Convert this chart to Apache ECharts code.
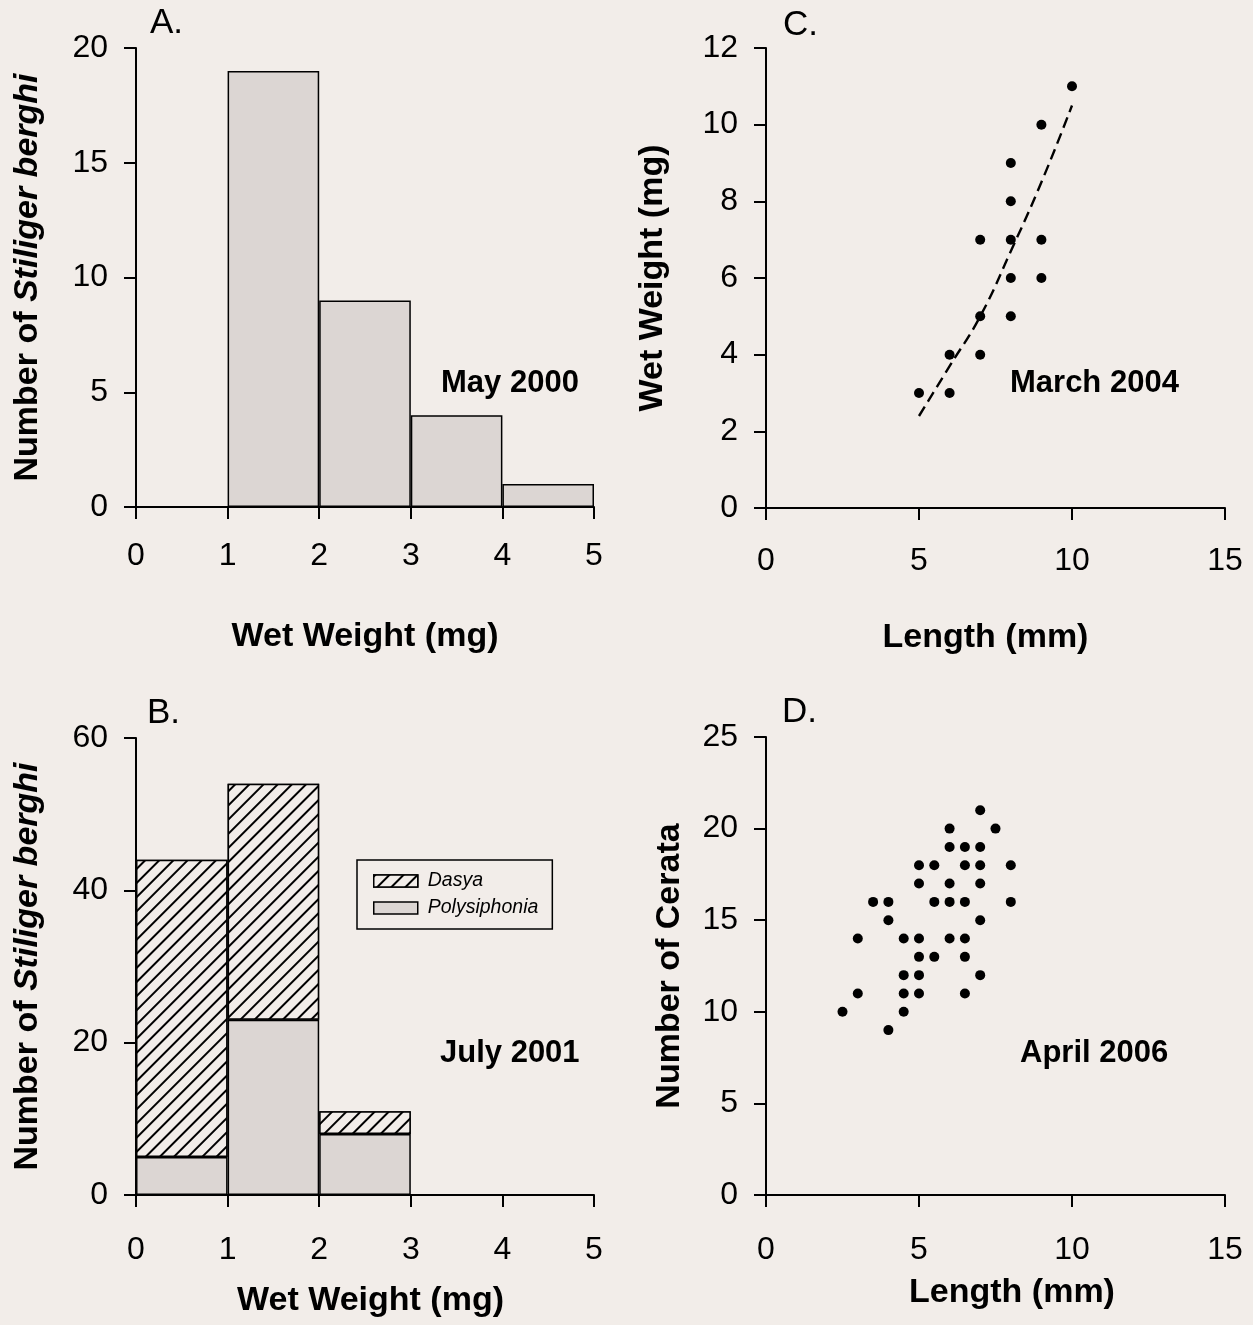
<!DOCTYPE html>
<html>
<head>
<meta charset="utf-8">
<script src="https://cdn.jsdelivr.net/npm/echarts@6/dist/echarts.min.js"></script>
<style>
  html, body { margin: 0; padding: 0; background: #f2ede9; }
  #chart { width: 1253px; height: 1325px; }
</style>
</head>
<body>
<div id="chart"></div>
<script>
// histogram bins (mg)
const binLabels = ['0-1', '1-2', '2-3', '3-4', '4-5']
const may2000Counts = [0, 19, 9, 4, 1]
const july2001Poly = [5, 23, 8, 0, 0]
const july2001Dasya = [39, 31, 3, 0, 0]

// March 2004 length (mm) vs wet weight (mg)
const marchLength = [5, 6, 6, 7, 7, 8, 8, 9, 7, 8, 9, 8, 8, 9, 10]
const marchWeight = [3, 3, 4, 4, 5, 5, 6, 6, 7, 7, 7, 8, 9, 10, 11]
// dashed fit line
const marchFitLength = [5, 6, 7, 8, 9, 10]
const marchFitWeight = [2.4, 3.7, 5.0, 6.7, 8.5, 10.5]

// April 2006 length (mm) vs number of cerata
const aprilLength = [7, 6, 7.5, 6, 6.5, 7, 5, 5.5, 6.5, 7, 8, 5, 6, 7,
  3.5, 4, 5.5, 6, 6.5, 8, 4, 7, 3, 4.5, 5, 6, 6.5, 5, 5.5, 6.5,
  4.5, 5, 7, 3, 4.5, 5, 6.5, 2.5, 4.5, 4]
const aprilCerata = [21, 20, 20, 19, 19, 19, 18, 18, 18, 18, 18, 17, 17, 17,
  16, 16, 16, 16, 16, 16, 15, 15, 14, 14, 14, 14, 14, 13, 13, 13,
  12, 12, 12, 11, 11, 11, 11, 10, 10, 9]

const FONT = '"Liberation Sans", Arial, sans-serif'
const BG = '#f2ede9'
const GREY = '#dcd6d3'

const pairs = (xs, ys) => xs.map((x, i) => [x, ys[i]])

const axisLine = { show: true, lineStyle: { color: '#000', width: 2 } }
const axisTick = { show: true, length: 12, lineStyle: { color: '#000', width: 2 } }
const tickLabel = (margin) => ({ color: '#000', fontSize: 32, fontFamily: FONT, margin: margin })
const titleStyle = (padding) => ({
  color: '#000', fontSize: 34, fontWeight: 'bold', fontFamily: FONT, padding: padding || 0
})
const numberTitle = {
  color: '#000',
  fontFamily: FONT,
  rich: {
    a: { fontSize: 34, fontWeight: 'bold', fontFamily: FONT, color: '#000' },
    b: { fontSize: 34, fontWeight: 'bold', fontStyle: 'italic', fontFamily: FONT, color: '#000' }
  }
}

function valueX(grid, max, interval, name, gap, margin, pad) {
  return {
    type: 'value', gridIndex: grid, position: 'bottom', min: 0, max: max, interval: interval,
    name: name, nameLocation: 'middle', nameGap: gap, nameTextStyle: titleStyle(pad),
    axisLine: axisLine, axisTick: axisTick, axisLabel: tickLabel(margin), splitLine: { show: false }
  }
}
function valueY(grid, max, interval, name, gap, style) {
  return {
    type: 'value', gridIndex: grid, min: 0, max: max, interval: interval,
    name: name, nameLocation: 'middle', nameGap: gap, nameTextStyle: style,
    axisLine: axisLine, axisTick: axisTick, axisLabel: tickLabel(28), splitLine: { show: false }
  }
}
function label(text, x, y, bold) {
  return {
    type: 'text', x: x, y: y,
    style: {
      text: text, fill: '#000', fontFamily: FONT, fontSize: bold ? 31 : 35,
      fontWeight: bold ? 'bold' : 'normal', verticalAlign: 'middle'
    }
  }
}

const hatch = {
  symbol: 'rect',
  symbolSize: 1,
  color: '#000',
  backgroundColor: BG,
  dashArrayX: [1, 0],
  dashArrayY: [2, 8],
  rotation: -Math.PI / 4
}

let myChart = echarts.init(document.getElementById('chart'))
let option = {
  backgroundColor: BG,
  animation: false,
  grid: [
    { left: 136, top: 48, width: 458, height: 459 },
    { left: 136, top: 738, width: 458, height: 457 },
    { left: 766, top: 48, width: 459, height: 460 },
    { left: 766, top: 737, width: 459, height: 458 }
  ],
  xAxis: [
    { type: 'category', gridIndex: 0, data: binLabels, show: false },
    valueX(0, 5, 1, 'Wet Weight (mg)', 113, 33),
    { type: 'category', gridIndex: 1, data: binLabels, show: false },
    valueX(1, 5, 1, 'Wet Weight (mg)', 89, 39, [0, 0, 0, 11]),
    valueX(2, 15, 5, 'Length (mm)', 113, 37, [0, 20, 0, 0]),
    valueX(3, 15, 5, 'Length (mm)', 81, 39, [0, 0, 0, 33])
  ],
  yAxis: [
    valueY(0, 20, 5, '{a|Number of }{b|Stiliger berghi}', 91, numberTitle),
    valueY(1, 60, 20, '{a|Number of }{b|Stiliger berghi}', 91, numberTitle),
    valueY(2, 12, 2, 'Wet Weight (mg)', 96, titleStyle()),
    valueY(3, 25, 5, 'Number of Cerata', 79, titleStyle())
  ],
  legend: {
    data: ['Dasya', 'Polysiphonia'],
    orient: 'vertical',
    left: 357,
    top: 860,
    icon: 'rect',
    itemWidth: 44,
    itemHeight: 12,
    itemGap: 7,
    padding: [11, 14, 11, 16],
    borderColor: '#000',
    borderWidth: 1.5,
    selectedMode: false,
    itemStyle: { borderColor: '#000', borderWidth: 1.5 },
    textStyle: { fontFamily: FONT, fontSize: 19.5, fontStyle: 'italic', color: '#000', padding: [0, 0, 0, 5] }
  },
  graphic: [
    label('A.', 150, 23),
    label('C.', 783, 25),
    label('B.', 147, 713),
    label('D.', 782, 712),
    label('May 2000', 441, 383, true),
    label('March 2004', 1010, 383, true),
    label('July 2001', 440, 1053, true),
    label('April 2006', 1020, 1053, true)
  ],
  series: [
    {
      type: 'bar', xAxisIndex: 0, yAxisIndex: 0, data: may2000Counts,
      barWidth: '100%', barCategoryGap: '0%',
      itemStyle: { color: GREY, borderColor: '#000', borderWidth: 1.5 }
    },
    {
      name: 'Polysiphonia', type: 'bar', xAxisIndex: 2, yAxisIndex: 1, stack: 'july',
      data: july2001Poly, barWidth: '100%', barCategoryGap: '0%',
      itemStyle: { color: GREY, borderColor: '#000', borderWidth: 1.5 }
    },
    {
      name: 'Dasya', type: 'bar', xAxisIndex: 2, yAxisIndex: 1, stack: 'july',
      data: july2001Dasya, barWidth: '100%', barCategoryGap: '0%',
      itemStyle: { color: BG, borderColor: '#000', borderWidth: 1.5, decal: hatch }
    },
    {
      type: 'scatter', xAxisIndex: 4, yAxisIndex: 2, data: pairs(marchLength, marchWeight),
      symbolSize: 10, itemStyle: { color: '#000', opacity: 1 }
    },
    {
      type: 'line', xAxisIndex: 4, yAxisIndex: 2, data: pairs(marchFitLength, marchFitWeight),
      smooth: true, showSymbol: false, lineStyle: { color: '#000', width: 2.4, type: [11, 6] }
    },
    {
      type: 'scatter', xAxisIndex: 5, yAxisIndex: 3, data: pairs(aprilLength, aprilCerata),
      symbolSize: 10, itemStyle: { color: '#000', opacity: 1 }
    }
  ]
}
myChart.setOption(option)
</script>
</body>
</html>
